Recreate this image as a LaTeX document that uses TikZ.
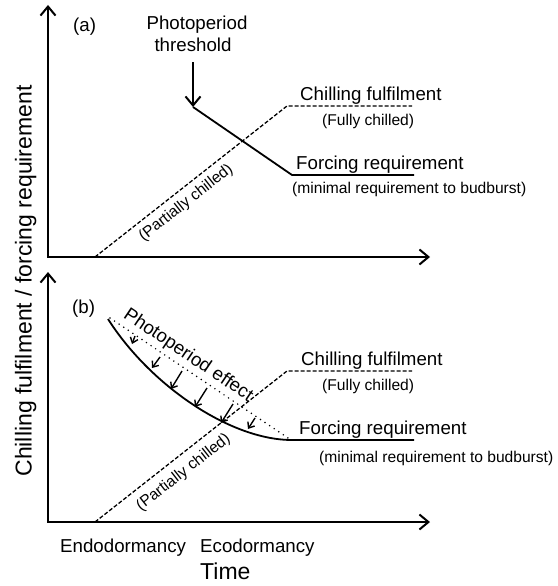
\documentclass[tikz,border=0pt]{standalone}
\usepackage{fontspec}
\setmainfont{Liberation Sans}
\usetikzlibrary{arrows.meta}
\begin{document}
\begin{tikzpicture}[
    x=1pt, y=-1pt,
    axis/.style={line width=2pt, {Straight Barb[length=9pt,width=15pt]}-{Straight Barb[length=9pt,width=15pt]}},
    pointer/.style={line width=2pt, -{Straight Barb[length=9pt,width=15pt]}},
    chill/.style={line width=1.3pt, dash pattern=on 4pt off 2pt},
    force/.style={line width=1.8pt},
    effect/.style={line width=1.7pt, line cap=round, dash pattern=on 0pt off 5.5pt},
    push/.style={line width=1.4pt, -{Straight Barb[length=5pt,width=8pt]}},
    lbl/.style={font=\fontsize{18.7}{22}\selectfont, inner sep=0},
    sub/.style={font=\fontsize{15.6}{18}\selectfont, inner sep=0},
    big/.style={font=\fontsize{23}{27}\selectfont, inner sep=0}
  ]
  \useasboundingbox (0,0) rectangle (557,586);
  \node[big, rotate=90, anchor=base] (ylab) at (31.5,281) {Chilling fulfilment / forcing requirement};
  % (a)
  \draw[axis] (48,5) |- (430,257);
  \node[lbl, anchor=base west] (tagA) at (73,32) {(a)};
  \node[lbl, anchor=base] (pp1) at (197,30) {Photoperiod};
  \node[lbl, anchor=base] (pp2) at (193,51.7) {threshold};
  \coordinate (thr) at (193,107);
  \draw[pointer, shorten <=10pt] (pp2.south) -- (thr);
  \draw[chill] (95,257) -- node[sub, sloped, below=6pt, pos=0.43] (pcA) {(Partially chilled)} (287,106) -- (412,106);
  \draw[force] (thr) -- (292,175) -- (414,175);
  \node[lbl, anchor=base west] (cfA) at (300,100.5) {Chilling fulfilment};
  \node[sub, anchor=base west] (fcA) at (322,125) {(Fully chilled)};
  \node[lbl, anchor=base west] (frA) at (296,169) {Forcing requirement};
  \node[sub, anchor=base west] (mrA) at (292,193.5) {(minimal requirement to budburst)};
  % (b)
  \draw[axis] (48,272) |- (430,522);
  \node[lbl, anchor=base west] (tagB) at (72,313) {(b)};
  \draw[chill] (95,522) -- node[sub, sloped, below=8pt, pos=0.41] (pcB) {(Partially chilled)} (287,371) -- (412,371);
  \draw[force] (108,319) .. controls (150,385) and (230,440) .. (292,440) -- (414,440);
  \draw[effect] (110,318) -- node[lbl, sloped, above=3pt, pos=0.4] (pe) {Photoperiod effect} (288,438);
  \foreach \xa/\ya/\xb/\yb in {135/336/132/344, 160/357/152/368, 182/371/171/389,
      207/388/195/407, 233/404/221/423, 255/418/248/429}
    \draw[push] (\xa,\ya) -- (\xb,\yb);
  \node[lbl, anchor=base west] (cfB) at (301,365) {Chilling fulfilment};
  \node[sub, anchor=base west] (fcB) at (322,390) {(Fully chilled)};
  \node[lbl, anchor=base west] (frB) at (299,434) {Forcing requirement};
  \node[sub, anchor=base west] (mrB) at (319,462) {(minimal requirement to budburst)};
  \node[lbl, anchor=base west] (endo) at (60,552.5) {Endodormancy};
  \node[lbl, anchor=base west] (eco) at (200,552.5) {Ecodormancy};
  \node[big, anchor=base west] (time) at (200,579.3) {Time};
\end{tikzpicture}
\end{document}
